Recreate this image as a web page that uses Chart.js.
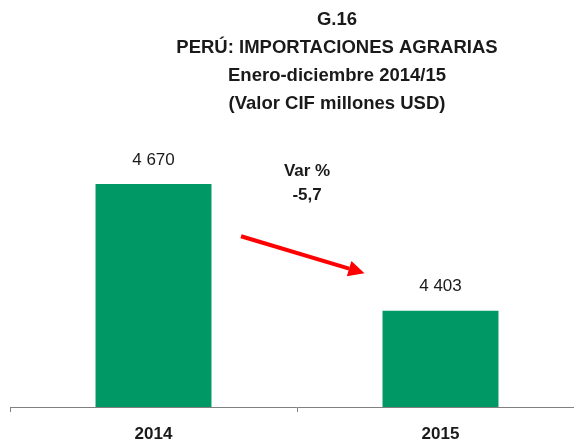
<!DOCTYPE html>
<html>
<head>
<meta charset="utf-8">
<script src="https://cdn.jsdelivr.net/npm/chart.js@4.4.1/dist/chart.umd.min.js"></script>
<style>
  html, body { margin: 0; padding: 0; background: #fff; overflow: hidden; }
  #wrap { width: 674px; height: 441px; }
</style>
</head>
<body>
<div id="wrap"><canvas id="grafico" width="674" height="441"></canvas></div>
<script>
// Datos del gráfico
const anios = ["2014", "2015"];
const valores = [4670, 4403];
const titulo = ["G.16", "PERÚ: IMPORTACIONES AGRARIAS", "Enero-diciembre 2014/15", "(Valor CIF millones USD)"];
const variacion = ["Var %", "-5,7"];

const fuente = "'Liberation Sans', Arial, sans-serif";

function formato(v) {
    return String(v).replace(/\B(?=(\d{3})+(?!\d))/g, " ");
}

// Título centrado sobre toda la figura
const tituloPlugin = {
    id: "tituloPlugin",
    afterDraw(chart) {
        const ctx = chart.ctx;
        ctx.save();
        ctx.font = "bold 18.5px " + fuente;
        ctx.fillStyle = "#1a1a1a";
        ctx.textAlign = "center";
        ctx.textBaseline = "middle";
        titulo.forEach((t, i) => ctx.fillText(t, 337, 20 + i * 28));
        ctx.restore();
    }
};

// Etiquetas sobre las barras
const etiquetas = {
    id: "etiquetas",
    afterDatasetsDraw(chart) {
        const ctx = chart.ctx;
        const meta = chart.getDatasetMeta(0);
        ctx.save();
        ctx.font = "17px " + fuente;
        ctx.fillStyle = "#1a1a1a";
        ctx.textAlign = "center";
        ctx.textBaseline = "middle";
        meta.data.forEach((bar, i) => {
            ctx.fillText(formato(valores[i]), bar.x, bar.y - 24);
        });
        ctx.restore();
    }
};

// Flecha roja y texto de variación
const flecha = {
    id: "flecha",
    afterDatasetsDraw(chart) {
        const ctx = chart.ctx;
        const xs = chart.scales.x, ys = chart.scales.y;
        const x1 = xs.getPixelForValue(0.305), y1 = ys.getPixelForValue(4560);
        const x2 = xs.getPixelForValue(0.735), y2 = ys.getPixelForValue(4482);
        const ang = Math.atan2(y2 - y1, x2 - x1);
        const largo = 16, ancho = 8;
        const bx = x2 - largo * Math.cos(ang), by = y2 - largo * Math.sin(ang);
        ctx.save();
        ctx.strokeStyle = "#ff0000";
        ctx.fillStyle = "#ff0000";
        ctx.lineWidth = 4;
        ctx.beginPath();
        ctx.moveTo(x1, y1);
        ctx.lineTo(bx, by);
        ctx.stroke();
        ctx.beginPath();
        ctx.moveTo(x2, y2);
        ctx.lineTo(bx + ancho * Math.sin(ang), by - ancho * Math.cos(ang));
        ctx.lineTo(bx - ancho * Math.sin(ang), by + ancho * Math.cos(ang));
        ctx.closePath();
        ctx.fill();

        ctx.font = "bold 17px " + fuente;
        ctx.fillStyle = "#1a1a1a";
        ctx.textAlign = "center";
        ctx.textBaseline = "middle";
        const tx = xs.getPixelForValue(0.535);
        ctx.fillText(variacion[0], tx, ys.getPixelForValue(4697));
        ctx.fillText(variacion[1], tx, ys.getPixelForValue(4647));
        ctx.restore();
    }
};

new Chart(document.getElementById("grafico").getContext("2d"), {
    type: "bar",
    data: {
        labels: anios,
        datasets: [{
            data: valores,
            backgroundColor: "#009966",
            borderWidth: 0,
            categoryPercentage: 1,
            barPercentage: 0.404
        }]
    },
    options: {
        responsive: false,
        animation: false,
        devicePixelRatio: 1,
        layout: { padding: { left: 10, right: 90, top: 130, bottom: -16 } },
        plugins: {
            legend: { display: false },
            tooltip: { enabled: false },
            title: { display: false }
        },
        scales: {
            x: {
                grid: { drawOnChartArea: false, drawTicks: true, tickLength: 5, color: "#808080" },
                border: { color: "#808080", width: 1 },
                ticks: {
                    color: "#1a1a1a",
                    padding: 14,
                    font: { family: fuente, size: 17, weight: "bold", lineHeight: 1 }
                }
            },
            y: {
                display: false,
                min: 4200,
                max: 4784
            }
        }
    },
    plugins: [tituloPlugin, etiquetas, flecha]
});
</script>
</body>
</html>
